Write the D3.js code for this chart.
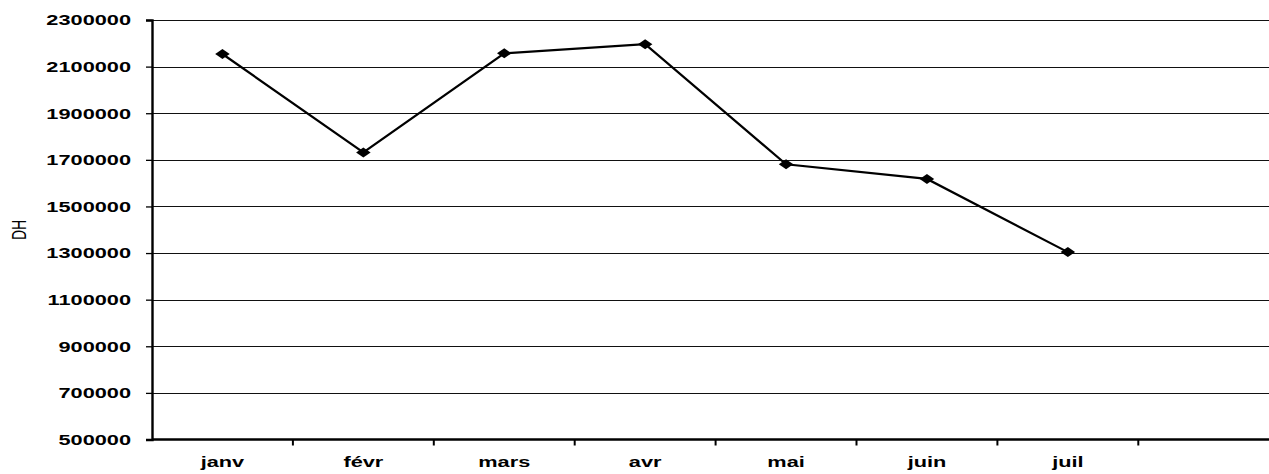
<!DOCTYPE html>
<html lang="fr">
<head>
<meta charset="UTF-8">
<title>DH par mois</title>
<script src="https://cdn.jsdelivr.net/npm/d3@7"></script>
<style>
  html, body { margin: 0; padding: 0; background: #fff; }
  svg { display: block; }
  text { font-family: "Liberation Sans", Arial, sans-serif; fill: #000; }
</style>
</head>
<body>
<svg id="chart" width="1269" height="474"></svg>
<script>
// data
var months = ["janv", "févr", "mars", "avr", "mai", "juin", "juil"];
var values = [2154000, 1732000, 2157000, 2196000, 1681000, 1618000, 1304000];
var yTicks = [500000, 700000, 900000, 1100000, 1300000, 1500000, 1700000, 1900000, 2100000, 2300000];

var W = 1269, H = 474;
var plotLeft = 152, plotTop = 20, plotBottom = 439.5;
var band = 140.9;
var stretch = 1.45; // the original text is wider than it is tall

var svg = d3.select("#chart");

var x = d3.scaleBand().domain(months).range([plotLeft, plotLeft + band * months.length]);
var y = d3.scaleLinear().domain([500000, 2300000]).range([plotBottom, plotTop]);

// gridlines
svg.append("g").selectAll("line")
  .data(yTicks.slice(1))
  .join("line")
  .attr("x1", plotLeft).attr("x2", W)
  .attr("y1", function(d){ return Math.round(y(d)) + 0.5; })
  .attr("y2", function(d){ return Math.round(y(d)) + 0.5; })
  .attr("stroke", "#111").attr("stroke-width", 1.2);

// y axis
var ya = svg.append("g").attr("transform", "translate(" + plotLeft + ",0)")
  .call(d3.axisLeft(y).tickValues(yTicks).tickSize(6).tickFormat(""));
ya.select(".domain").attr("stroke", "#000").attr("stroke-width", 2.4);
ya.selectAll(".tick line").attr("stroke", "#000").attr("stroke-width", 1.3);

svg.append("g").selectAll("text")
  .data(yTicks)
  .join("text")
  .attr("transform", function(d){ return "translate(131," + y(d) + ") scale(" + stretch + ",1)"; })
  .attr("text-anchor", "end")
  .attr("dy", "0.36em")
  .attr("font-size", 15)
  .attr("font-weight", "bold")
  .text(function(d){ return d; });

// x axis
svg.append("line")
  .attr("x1", plotLeft).attr("x2", W)
  .attr("y1", plotBottom).attr("y2", plotBottom)
  .attr("stroke", "#000").attr("stroke-width", 2.4);

var bounds = months.map(function(m){ return x(m); }).concat([x.range()[1]]);
svg.append("g").selectAll("line")
  .data(bounds.slice(1))
  .join("line")
  .attr("x1", function(d){ return d; }).attr("x2", function(d){ return d; })
  .attr("y1", plotBottom).attr("y2", plotBottom + 6)
  .attr("stroke", "#000").attr("stroke-width", 2);

svg.append("g").selectAll("text")
  .data(months)
  .join("text")
  .attr("transform", function(d){ return "translate(" + (x(d) + x.bandwidth() / 2) + ",467) scale(" + stretch + ",1)"; })
  .attr("text-anchor", "middle")
  .attr("font-size", 15)
  .attr("font-weight", "bold")
  .text(function(d){ return d; });

// axis title
svg.append("text")
  .attr("transform", "translate(26,230) rotate(-90) scale(1," + stretch + ")")
  .attr("text-anchor", "middle")
  .attr("font-size", 14)
  .text("DH");

// series line
var pts = months.map(function(m, i){ return [x(m) + x.bandwidth() / 2, y(values[i])]; });
svg.append("path")
  .attr("d", d3.line()(pts))
  .attr("fill", "none")
  .attr("stroke", "#000")
  .attr("stroke-width", 2.2);

// diamond markers
svg.append("g").selectAll("path")
  .data(pts)
  .join("path")
  .attr("transform", function(d){ return "translate(" + d[0] + "," + d[1] + ") scale(" + stretch + ",1)"; })
  .attr("d", "M0,-5L5,0L0,5L-5,0Z")
  .attr("fill", "#000");
</script>
</body>
</html>
